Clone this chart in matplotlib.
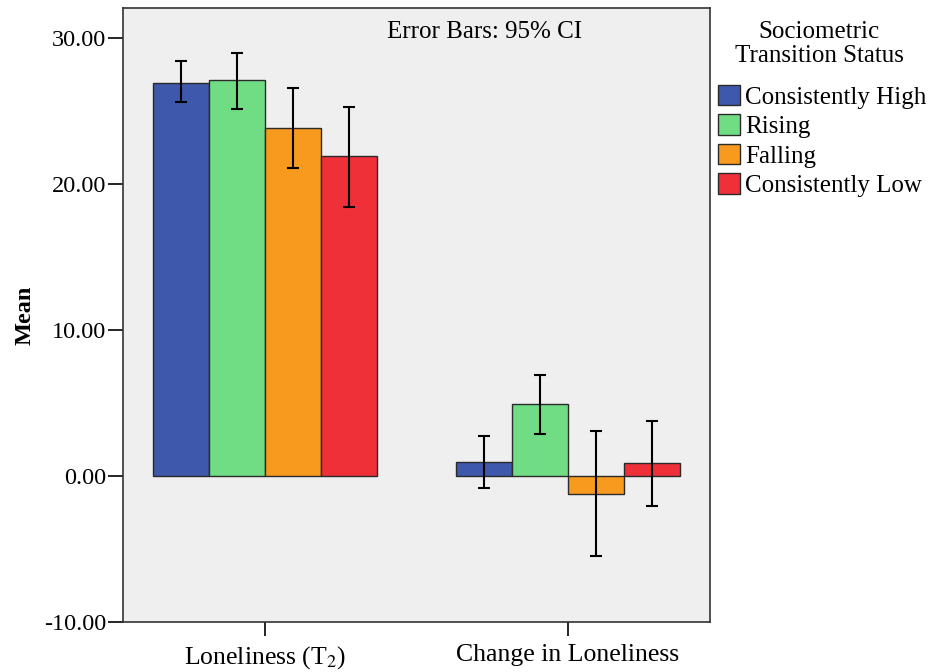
import numpy as np
import matplotlib.pyplot as plt
from matplotlib.patches import Patch

plt.rcParams['font.family'] = ['Liberation Serif', 'DejaVu Serif']
plt.rcParams['mathtext.fontset'] = 'stix'

groups = ['Loneliness (T$_2$)', 'Change in Loneliness']
statuses = ['Consistently High', 'Rising', 'Falling', 'Consistently Low']
colors = ['#3E58AC', '#70DC84', '#F89A1D', '#EF3038']

# means per status: [Loneliness T2, Change in Loneliness]
means = {
    'Consistently High': [26.95, 0.96],
    'Rising': [27.1, 4.93],
    'Falling': [23.85, -1.23],
    'Consistently Low': [21.95, 0.89],
}
ci_low = {
    'Consistently High': [25.6, -0.82],
    'Rising': [25.15, 2.9],
    'Falling': [21.1, -5.48],
    'Consistently Low': [18.45, -2.05],
}
ci_high = {
    'Consistently High': [28.4, 2.74],
    'Rising': [29.0, 6.9],
    'Falling': [26.6, 3.08],
    'Consistently Low': [25.3, 3.77],
}

fig = plt.figure(figsize=(9.29, 6.72), dpi=100)
ax = fig.add_axes([0.1324, 0.0744, 0.6319, 0.9136])
ax.set_facecolor('#EFEFEF')

x = np.arange(len(groups))
width = 0.185
for i, s in enumerate(statuses):
    pos = x + (i - 1.5) * width
    m = np.array(means[s])
    lo = m - np.array(ci_low[s])
    hi = np.array(ci_high[s]) - m
    ax.bar(pos, m, width, color=colors[i], edgecolor='#2a2a2a', linewidth=1.0, zorder=2)
    ax.errorbar(pos, m, yerr=[lo, hi], fmt='none', ecolor='black',
                elinewidth=1.5, capsize=4.5, capthick=1.5, zorder=3)

ax.set_xlim(-0.469, 1.469)
ax.set_ylim(-10, 32.05)
ax.set_yticks([-10, 0, 10, 20, 30])
ax.set_yticklabels([f'{v:.2f}' for v in [-10, 0, 10, 20, 30]])
ax.set_xticks(x)
ax.set_xticklabels(groups)
ax.tick_params(axis='y', length=11, width=1.2, labelsize=17.5, pad=1)
ax.tick_params(axis='x', length=10, width=1.2, labelsize=18.5, pad=6)
for sp in ax.spines.values():
    sp.set_linewidth(1.2)
    sp.set_color('#333333')
ax.set_ylabel('Mean', fontsize=17.5, fontweight='bold', labelpad=6)

fig.text(0.522, 0.952, 'Error Bars: 95% CI', ha='center', va='center', fontsize=18)

# legend title drawn separately so the gap to the entries matches
fig.text(0.882, 0.935, 'Sociometric\nTransition Status', ha='center', va='center',
         fontsize=18, linespacing=1.1, multialignment='center')
handles = [Patch(facecolor=c, edgecolor='#2a2a2a', label=s) for c, s in zip(colors, statuses)]
leg = fig.legend(handles=handles, loc='upper left', bbox_to_anchor=(0.7729, 0.874),
                 frameon=False, fontsize=18, handlelength=0.88, handleheight=0.9,
                 handletextpad=0.2, labelspacing=0.22, borderpad=0, borderaxespad=0)

plt.savefig('out.png', dpi=100)
